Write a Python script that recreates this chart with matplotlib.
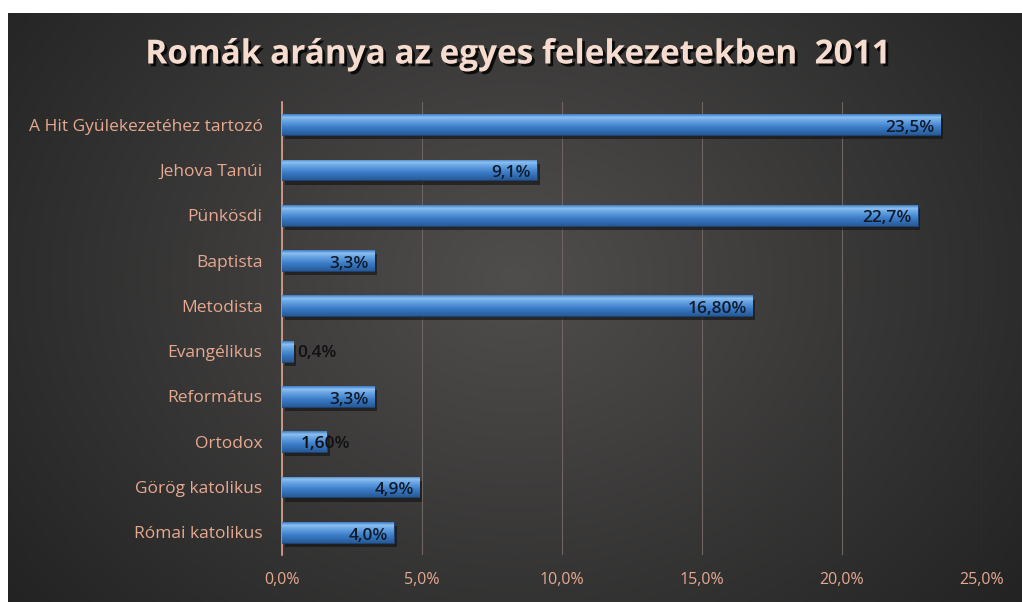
import matplotlib
matplotlib.use("Agg")
import matplotlib.pyplot as plt
import numpy as np
from matplotlib import patheffects as pe
from matplotlib.ticker import FuncFormatter
from matplotlib.colors import LinearSegmentedColormap

# ---- data ----
categories = ["Római katolikus", "Görög katolikus", "Ortodox", "Református",
              "Evangélikus", "Metodista", "Baptista", "Pünkösdi",
              "Jehova Tanúi", "A Hit Gyülekezetéhez tartozó"]
values = [4.0, 4.9, 1.6, 3.3, 0.4, 16.8, 3.3, 22.7, 9.1, 23.5]
value_labels = ["4,0%", "4,9%", "1,60%", "3,3%", "0,4%", "16,80%", "3,3%",
                "22,7%", "9,1%", "23,5%"]
x_ticks = [0, 5, 10, 15, 20, 25]
title = "Romák aránya az egyes felekezetekben  2011"

W, H = 1022, 602
fig = plt.figure(figsize=(W / 100, H / 100), dpi=100)
fig.patch.set_facecolor("white")

# dark background with radial gradient
bg = fig.add_axes([8 / W, 0, 1 - 8 / W, 1 - 13 / H])
bg.set_axis_off()
yy, xx = np.mgrid[0:1:300j, 0:1:500j]
r = np.sqrt(((xx - 0.5) / 0.65) ** 2 + ((yy - 0.55) / 0.9) ** 2)
g = np.clip(1 - r, 0, 1)
c0 = np.array([0x22, 0x22, 0x22]) / 255
c1 = np.array([0x50, 0x4e, 0x4d]) / 255
img = c0[None, None, :] + (c1 - c0)[None, None, :] * g[..., None]
bg.imshow(img, extent=[0, 1, 0, 1], aspect="auto", origin="lower")
bg.set_xlim(0, 1)
bg.set_ylim(0, 1)

ax = fig.add_axes([282 / W, 1 - 555 / H, (982 - 282) / W, (555 - 102) / H])
ax.patch.set_alpha(0)

y = np.arange(len(categories))
bars = ax.barh(y, values, height=0.46, color="#3b7dc9", edgecolor="#1d3f6e",
               linewidth=0.6, zorder=3)
grad = np.linspace(0, 1, 100)[:, None]
cmap = LinearSegmentedColormap.from_list(
    "b", [(0.0, "#275a98"), (0.35, "#3a7bc6"), (0.7, "#6aa7e6"), (0.85, "#8ec0f0"), (1.0, "#3c7cc4")])
for b in bars:
    b.set_path_effects([pe.SimplePatchShadow(offset=(2, -3), shadow_rgbFace="#111111", alpha=0.6), pe.Normal()])
    x0, y0, w, h = b.get_x(), b.get_y(), b.get_width(), b.get_height()
    im = ax.imshow(grad, extent=[x0, x0 + w, y0, y0 + h], aspect="auto",
                   origin="lower", cmap=cmap, zorder=4)
    im.set_clip_path(b)

lab_kw = dict(va="center", fontsize=12.5, fontweight="semibold",
              fontfamily="Open Sans", zorder=6)
for yi, v, lab in zip(y, values, value_labels):
    if v < 1:
        ax.text(v + 0.14, yi - 0.05, lab, ha="left", color="#111111", **lab_kw)
    elif v < 2:
        ax.text(v + 0.85, yi - 0.05, lab, ha="right", color="#111111", **lab_kw)
    else:
        ax.text(v - 0.2, yi - 0.07, lab, ha="right", color="#101b2b", **lab_kw)

ax.set_xlim(0, 25)
ax.set_ylim(-0.5, len(categories) - 0.5)
ax.set_xticks(x_ticks)
ax.xaxis.set_major_formatter(FuncFormatter(lambda v, p: f"{v:.1f}%".replace(".", ",")))
ax.set_yticks(y)
ax.set_yticklabels(categories)
ax.tick_params(axis="both", length=0, colors="#e6a990")
ax.tick_params(axis="y", pad=14, labelsize=12.5)
ax.tick_params(axis="x", pad=12, labelsize=11.5)
for t in ax.get_xticklabels() + ax.get_yticklabels():
    t.set_fontfamily("Open Sans")
ax.grid(axis="x", color="#6e6462", linewidth=0.8, zorder=0)
for s in ["top", "right", "bottom"]:
    ax.spines[s].set_visible(False)
ax.spines["left"].set_color("#d9a48e")
ax.spines["left"].set_linewidth(1.2)

fig.text(0.507, 1 - 55 / H, title, ha="center", va="center", fontsize=24,
         fontweight="bold", color="#f6dccf", fontfamily="Open Sans",
         path_effects=[pe.withSimplePatchShadow(offset=(2, -2), shadow_rgbFace="#000000", alpha=0.8)])

fig.savefig("out.png", dpi=100)
